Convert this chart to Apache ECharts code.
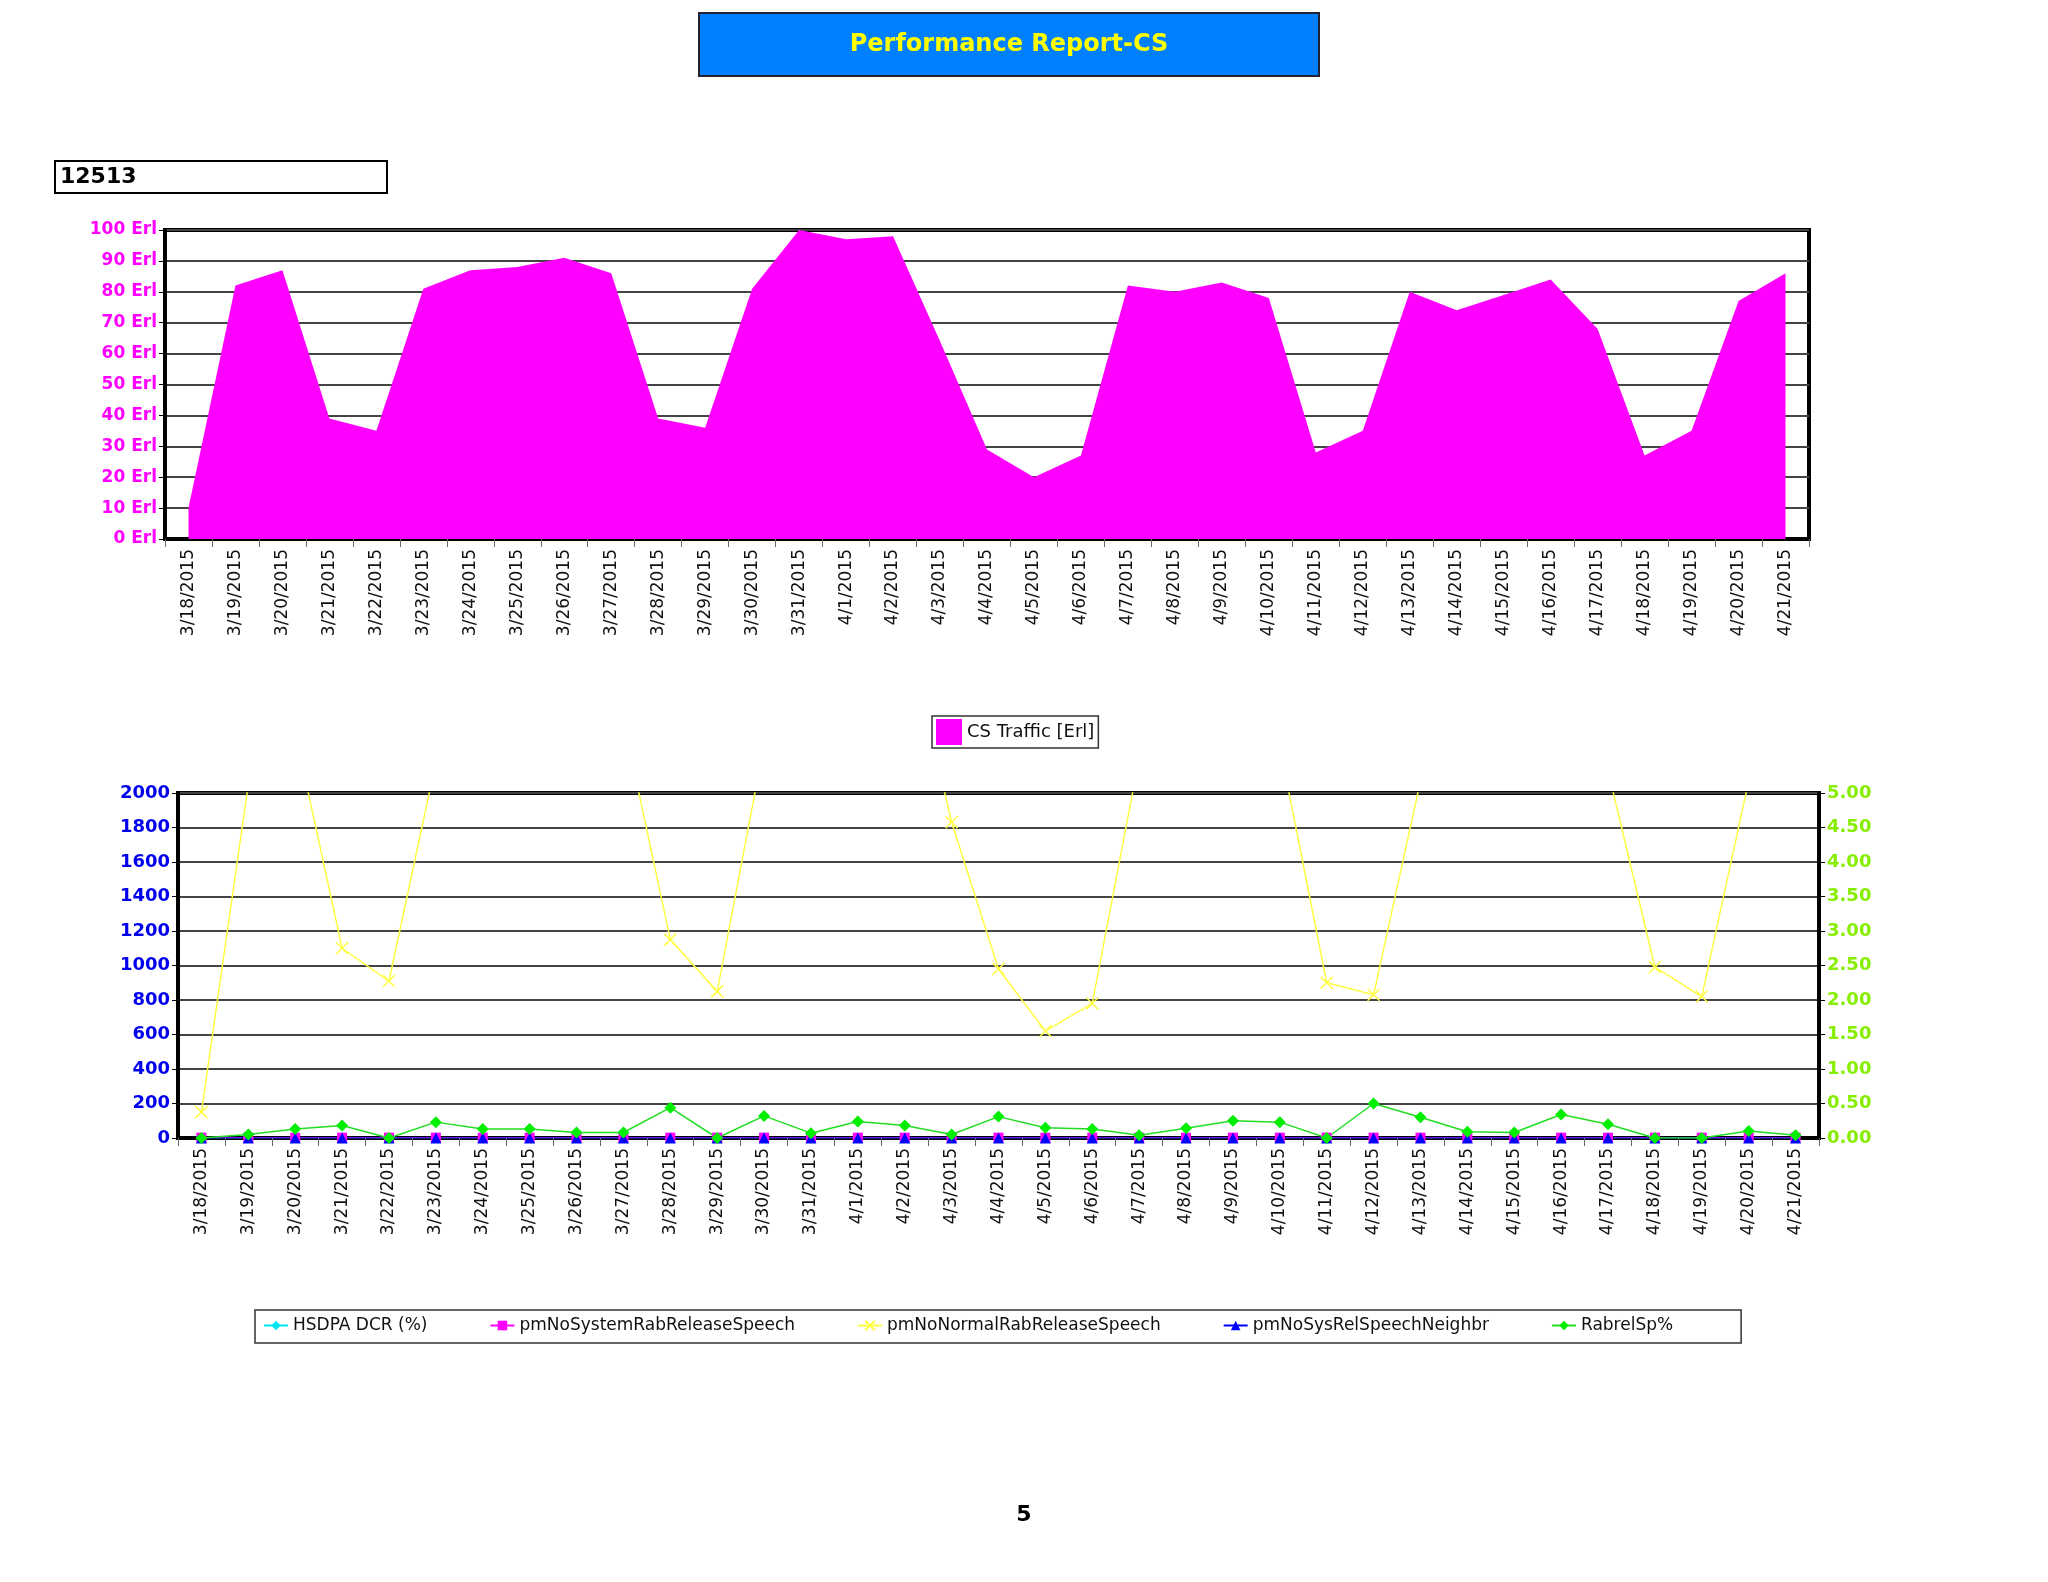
<!DOCTYPE html>
<html>
<head>
<meta charset="utf-8">
<script src="https://cdn.jsdelivr.net/npm/echarts@6/dist/echarts.min.js"></script>
<style>
html, body { margin: 0; padding: 0; background: #fff; }
#main { width: 2048px; height: 1582px; }
</style>
</head>
<body>
<div id="main"></div>
<script>
// data
var dates = ['3/18/2015','3/19/2015','3/20/2015','3/21/2015','3/22/2015','3/23/2015','3/24/2015','3/25/2015','3/26/2015','3/27/2015','3/28/2015','3/29/2015','3/30/2015','3/31/2015','4/1/2015','4/2/2015','4/3/2015','4/4/2015','4/5/2015','4/6/2015','4/7/2015','4/8/2015','4/9/2015','4/10/2015','4/11/2015','4/12/2015','4/13/2015','4/14/2015','4/15/2015','4/16/2015','4/17/2015','4/18/2015','4/19/2015','4/20/2015','4/21/2015'];
var csTraffic = [10,82,87,39,35,81,87,88,91,86,39,36,81,100,97,98,64,29,20,27,82,80,83,78,28,35,80,74,79,84,68,27,35,77,86];
var hsdpaDcr = [0,0,0,0,0,0,0,0,0,0,0,0,0,0,0,0,0,0,0,0,0,0,0,0,0,0,0,0,0,0,0,0,0,0,0];
var pmNoSystemRab = [2,2,2,2,2,2,2,2,2,2,2,2,2,2,2,2,2,2,2,2,2,2,2,2,2,2,2,2,2,2,2,2,2,2,2];
var pmNoNormalRab = [150,2050,2350,1100,910,2180,2400,2400,2400,2420,1150,850,2280,2500,2600,3000,1830,980,620,780,2200,2400,2400,2270,900,830,2070,2300,2300,2300,2130,990,820,2070,2300];
var pmNoSysRelNeighbr = [0,0,0,0,0,0,0,0,0,0,0,0,0,0,0,0,0,0,0,0,0,0,0,0,0,0,0,0,0,0,0,0,0,0,0];
var rabrelSp = [0,0.05,0.13,0.18,0,0.23,0.13,0.13,0.08,0.08,0.44,0,0.32,0.07,0.24,0.18,0.05,0.31,0.15,0.13,0.04,0.14,0.25,0.23,0,0.5,0.3,0.09,0.08,0.34,0.2,0,0,0.1,0.04];

var chart = echarts.init(document.getElementById('main'));
var font = 'DejaVu Sans, Verdana, sans-serif';
var gridLine = { show: true, lineStyle: { color: '#444', width: 2 } };
var xLabel = { rotate: 90, fontFamily: font, fontSize: 17, color: '#111', interval: 0, margin: 10 };

chart.setOption({
  backgroundColor: '#fff',
  animation: false,
  graphic: [
    { type: 'rect', shape: { x: 699, y: 13, width: 620, height: 63 }, style: { fill: '#0080ff', stroke: '#223', lineWidth: 2 } },
    { type: 'text', x: 1009, y: 45, style: { text: 'Performance Report-CS', fill: '#ffff00', font: 'bold 24px ' + font, textAlign: 'center', textVerticalAlign: 'middle' } },
    { type: 'rect', shape: { x: 55, y: 161, width: 332, height: 32 }, style: { fill: '#fff', stroke: '#000', lineWidth: 2 } },
    { type: 'text', x: 60, y: 177, style: { text: '12513', fill: '#000', font: 'bold 22px ' + font, textVerticalAlign: 'middle' } },
    { type: 'text', x: 1024, y: 1515, style: { text: '5', fill: '#000', font: 'bold 22px ' + font, textAlign: 'center', textVerticalAlign: 'middle' } }
  ],
  legend: [
    { data: [{ name: 'CS Traffic [Erl]', icon: 'rect' }], left: 932, top: 716, itemWidth: 26, itemHeight: 26, itemGap: 4, padding: [3, 4],
      borderColor: '#333', borderWidth: 1.5, textStyle: { fontFamily: font, fontSize: 18, color: '#111' } },
    { data: ['HSDPA DCR (%)', 'pmNoSystemRabReleaseSpeech', 'pmNoNormalRabReleaseSpeech', 'pmNoSysRelSpeechNeighbr', 'RabrelSp%'],
      left: 255, top: 1310, itemGap: 62, itemWidth: 24, itemHeight: 12, padding: [7, 68, 9, 8],
      borderColor: '#333', borderWidth: 1.5, textStyle: { fontFamily: font, fontSize: 17, color: '#111' } }
  ],
  grid: [
    { left: 165, top: 230, width: 1644, height: 309, show: true, borderColor: '#000', borderWidth: 4 },
    { left: 178, top: 793, width: 1641, height: 345, show: true, borderColor: '#000', borderWidth: 4 }
  ],
  xAxis: [
    { type: 'category', gridIndex: 0, data: dates, boundaryGap: true,
      axisLine: { lineStyle: { color: '#000', width: 4 } }, axisTick: { show: true, interval: 0, length: 8, lineStyle: { color: '#666' } },
      axisLabel: xLabel },
    { type: 'category', gridIndex: 1, data: dates, boundaryGap: true,
      axisLine: { lineStyle: { color: '#000', width: 4 } }, axisTick: { show: true, interval: 0, length: 8, lineStyle: { color: '#666' } },
      axisLabel: xLabel }
  ],
  yAxis: [
    { type: 'value', gridIndex: 0, min: 0, max: 100, interval: 10,
      axisLine: { show: true, lineStyle: { color: '#000', width: 4 } }, axisTick: { show: true, length: 6 },
      splitLine: gridLine,
      axisLabel: { formatter: '{value} Erl', color: '#ff00ff', fontWeight: 'bold', fontFamily: font, fontSize: 17, margin: 8 } },
    { type: 'value', gridIndex: 1, min: 0, max: 2000, interval: 200,
      axisLine: { show: true, lineStyle: { color: '#000', width: 4 } }, axisTick: { show: true, length: 6 },
      splitLine: gridLine,
      axisLabel: { color: '#0000ee', fontWeight: 'bold', fontFamily: font, fontSize: 18, margin: 8, formatter: function (v) { return String(v); } } },
    { type: 'value', gridIndex: 1, min: 0, max: 5, interval: 0.5, position: 'right',
      axisLine: { show: true, lineStyle: { color: '#000', width: 4 } }, axisTick: { show: true, length: 6 },
      splitLine: { show: false },
      axisLabel: { color: '#88ee00', fontWeight: 'bold', fontFamily: font, fontSize: 18, margin: 8, formatter: function (v) { return v.toFixed(2); } } }
  ],
  series: [
    { name: 'CS Traffic [Erl]', type: 'line', xAxisIndex: 0, yAxisIndex: 0, data: csTraffic, symbol: 'none',
      itemStyle: { color: '#ff00ff' }, lineStyle: { width: 0 }, areaStyle: { color: '#ff00ff', opacity: 1 } },
    { name: 'HSDPA DCR (%)', type: 'line', xAxisIndex: 1, yAxisIndex: 1, data: hsdpaDcr, symbol: 'diamond', symbolSize: 10,
      itemStyle: { color: '#00e5ee' }, lineStyle: { width: 1, color: '#00e5ee' } },
    { name: 'pmNoSystemRabReleaseSpeech', type: 'line', xAxisIndex: 1, yAxisIndex: 1, data: pmNoSystemRab, symbol: 'rect', symbolSize: 10,
      itemStyle: { color: '#ff00ff' }, lineStyle: { width: 1, color: '#ff00ff' } },
    { name: 'pmNoNormalRabReleaseSpeech', type: 'line', xAxisIndex: 1, yAxisIndex: 1, data: pmNoNormalRab,
      symbol: 'path://M0,0L10,10M10,0L0,10', symbolSize: 12,
      itemStyle: { color: 'none', borderColor: '#ffff44', borderWidth: 1.5 }, lineStyle: { width: 1.5, color: '#ffff44' } },
    { name: 'pmNoSysRelSpeechNeighbr', type: 'line', xAxisIndex: 1, yAxisIndex: 1, data: pmNoSysRelNeighbr, symbol: 'triangle', symbolSize: 11,
      itemStyle: { color: '#0000ff' }, lineStyle: { width: 1, color: '#0000ff' } },
    { name: 'RabrelSp%', type: 'line', xAxisIndex: 1, yAxisIndex: 2, data: rabrelSp, symbol: 'diamond', symbolSize: 12,
      itemStyle: { color: '#00ee00' }, lineStyle: { width: 1.5, color: '#22dd22' } }
  ]
});
</script>
</body>
</html>
